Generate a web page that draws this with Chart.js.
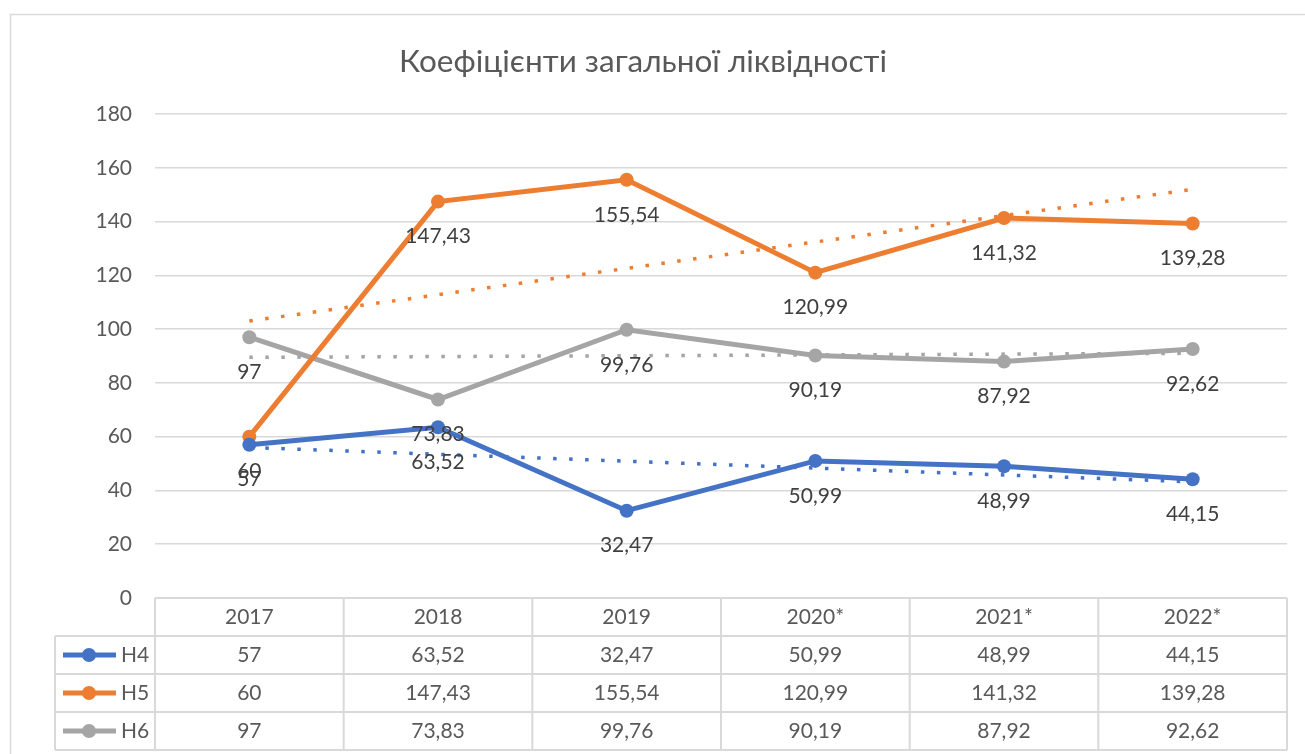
<!DOCTYPE html>
<html>
<head>
<meta charset="utf-8">
<script src="https://cdn.jsdelivr.net/npm/chart.js@4"></script>
<style>
  html, body { margin: 0; padding: 0; background: #fff; }
  canvas { display: block; }
</style>
</head>
<body>
<canvas id="chart" width="1305" height="754"></canvas>
<script>
const years = ["2017", "2018", "2019", "2020*", "2021*", "2022*"];
const seriesNames = ["Н4", "Н5", "Н6"];
const h4 = [57, 63.52, 32.47, 50.99, 48.99, 44.15];
const h5 = [60, 147.43, 155.54, 120.99, 141.32, 139.28];
const h6 = [97, 73.83, 99.76, 90.19, 87.92, 92.62];
// trend line ends (first year, last year)
const h4Trend = [56, 43.2];
const h5Trend = [103, 152];
const h6Trend = [89.5, 91];
const yTicks = [0, 20, 40, 60, 80, 100, 120, 140, 160, 180];
const colors = ["#4472C4", "#ED7D31", "#A5A5A5"];
const titleText = "Коефіцієнти загальної ліквідності";

const FONT = "Lato, 'Open Sans', sans-serif";
const fmt = (v) => String(v).replace(".", ",");

function lineSet(name, data, color) {
  return {
    label: name,
    data: data,
    borderColor: color,
    backgroundColor: color,
    borderWidth: 5,
    pointRadius: 7,
    pointHoverRadius: 7,
    pointBorderWidth: 0,
    tension: 0,
    order: 0,
  };
}

function trendSet(name, ends, color) {
  return {
    label: name + " trend",
    data: [
      { x: years[0], y: ends[0] },
      { x: years[years.length - 1], y: ends[1] },
    ],
    borderColor: color,
    borderWidth: 3.5,
    borderDash: [3.5, 12.5],
    pointRadius: 0,
    order: 1,
    isTrend: true,
  };
}

const seriesData = [h4, h5, h6];

// title, borders, point labels and the data table under the plot
const excelLook = {
  id: "excelLook",
  beforeDraw(chart) {
    const ctx = chart.ctx;
    ctx.save();
    ctx.fillStyle = "#fff";
    ctx.fillRect(0, 0, chart.width, chart.height);
    ctx.strokeStyle = "#d9d9d9";
    ctx.lineWidth = 1.5;
    ctx.strokeRect(10.5, 14.5, chart.width + 20, chart.height + 20);
    ctx.fillStyle = "#595959";
    ctx.font = "31.5px " + FONT;
    ctx.textAlign = "center";
    ctx.textBaseline = "middle";
    ctx.fillText(titleText, 643, 62);
    ctx.restore();
  },
  afterDatasetsDraw(chart) {
    const ctx = chart.ctx;
    ctx.save();
    ctx.fillStyle = "#404040";
    ctx.font = "21px " + FONT;
    ctx.textAlign = "center";
    ctx.textBaseline = "middle";
    chart.data.datasets.forEach((ds, di) => {
      if (ds.isTrend) return;
      const meta = chart.getDatasetMeta(di);
      meta.data.forEach((pt, i) => {
        ctx.fillText(fmt(ds.data[i]), pt.x, pt.y + 35);
      });
    });
    ctx.restore();
  },
  afterDraw(chart) {
    const ctx = chart.ctx;
    const area = chart.chartArea;
    const xs = chart.scales.x;
    const half = (area.right - area.left) / years.length / 2;
    const top = area.bottom;
    const rowH = 38;
    const legendLeft = 55;
    ctx.save();
    ctx.strokeStyle = "#d9d9d9";
    ctx.lineWidth = 2;
    ctx.beginPath();
    // header row
    ctx.moveTo(area.left, top);
    ctx.lineTo(area.right, top);
    for (let r = 1; r <= 4; r++) {
      ctx.moveTo(legendLeft, top + r * rowH);
      ctx.lineTo(area.right, top + r * rowH);
    }
    ctx.moveTo(legendLeft, top + rowH);
    ctx.lineTo(legendLeft, top + 4 * rowH);
    for (let i = 0; i <= years.length; i++) {
      const x = area.left + i * half * 2;
      ctx.moveTo(x, top);
      ctx.lineTo(x, top + 4 * rowH);
    }
    ctx.stroke();

    ctx.fillStyle = "#595959";
    ctx.font = "21px " + FONT;
    ctx.textAlign = "center";
    ctx.textBaseline = "middle";
    years.forEach((y, i) => {
      const cx = xs.getPixelForValue(i);
      ctx.fillText(y, cx, top + rowH / 2);
      seriesData.forEach((arr, s) => {
        ctx.fillText(fmt(arr[i]), cx, top + rowH * (s + 1.5));
      });
    });

    seriesNames.forEach((name, s) => {
      const cy = top + rowH * (s + 1.5);
      ctx.strokeStyle = colors[s];
      ctx.lineWidth = 5;
      ctx.beginPath();
      ctx.moveTo(63, cy);
      ctx.lineTo(116, cy);
      ctx.stroke();
      ctx.fillStyle = colors[s];
      ctx.beginPath();
      ctx.arc(89, cy, 7, 0, Math.PI * 2);
      ctx.fill();
      ctx.fillStyle = "#595959";
      ctx.textAlign = "left";
      ctx.fillText(name, 121, cy);
    });
    ctx.restore();
  },
};

new Chart(document.getElementById("chart"), {
  type: "line",
  data: {
    labels: years,
    datasets: [
      lineSet(seriesNames[0], h4, colors[0]),
      lineSet(seriesNames[1], h5, colors[1]),
      lineSet(seriesNames[2], h6, colors[2]),
      trendSet(seriesNames[0], h4Trend, colors[0]),
      trendSet(seriesNames[1], h5Trend, colors[1]),
      trendSet(seriesNames[2], h6Trend, colors[2]),
    ],
  },
  options: {
    responsive: false,
    animation: false,
    layout: { padding: { left: 0, right: 18, top: 114, bottom: 156 } },
    scales: {
      x: { display: false, offset: true },
      y: {
        min: 0,
        max: 180,
        afterFit: (s) => { s.width = 155; },
        afterBuildTicks: (s) => { s.ticks = yTicks.map((v) => ({ value: v })); },
        ticks: {
          color: "#595959",
          padding: 23,
          font: { family: FONT, size: 21 },
        },
        grid: { color: "#d9d9d9", lineWidth: 1.5, drawTicks: false },
        border: { display: false },
      },
    },
    plugins: {
      legend: { display: false },
      title: { display: false },
      tooltip: { enabled: false },
    },
  },
  plugins: [excelLook],
});
</script>
</body>
</html>
